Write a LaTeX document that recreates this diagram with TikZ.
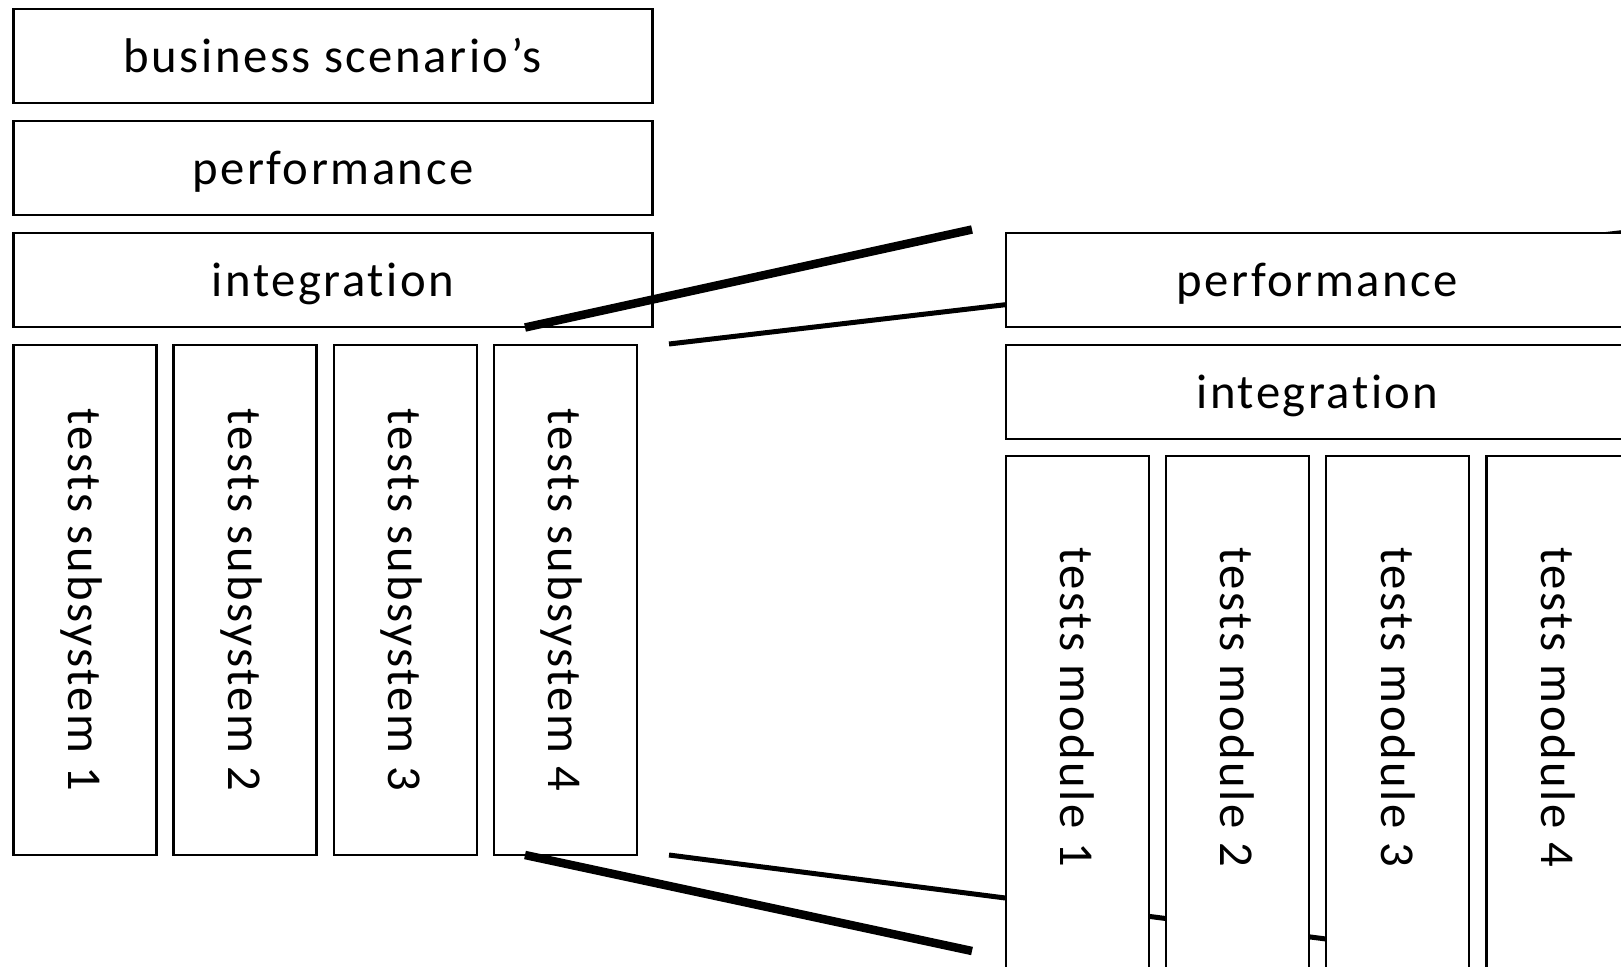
\documentclass[tikz,border=0pt]{standalone}
\usepackage{fontspec}
\newfontfamily\labelfont[LetterSpace=5.2,Ligatures={NoCommon}]{Carlito}
\begin{document}
\begin{tikzpicture}[x=1pt,y=-1pt,
  txt/.style={inner sep=0pt, text height=33pt, text depth=0pt,
    font=\labelfont\fontsize{48.7}{58}\selectfont},
  box/.style={txt, draw=black, line width=2.4pt, fill=white},
  hbox/.style={box, minimum width=639pt, minimum height=94pt},
  rbox/.style={box, minimum width=623pt, minimum height=94pt},
  vbox/.style={box, rotate=-90, minimum width=510pt, minimum height=143pt},
  mbox/.style={box, rotate=-90, minimum width=520pt, minimum height=143pt},
  vlabel/.style={txt, rotate=-90},
  thinlink/.style={draw=black, line width=5pt},
  thicklink/.style={draw=black, line width=8.5pt}]
\useasboundingbox (0,0) rectangle (1621,966);
\clip (0,0) rectangle (1621,966);

% left stack: system level
\node[hbox] (bus)  at (332.8,55.8)  {business scenario’s};
\node[hbox] (perf) at (332.8,168)   {performance};
\node[hbox] (int)  at (332.8,279.7) {integration};
\node[vbox] (s1) at (84.8,600)  {tests subsystem 1};
\node[vbox] (s2) at (245.0,600) {tests subsystem 2};
\node[vbox] (s3) at (405.2,600) {tests subsystem 3};
\node[vbox] (s4) at (565.4,600) {tests subsystem 4};

% zoom funnel from subsystem 4 to its detail view
\coordinate (tu1) at (525,327.5);
\coordinate (tu2) at (972,229.5);
\coordinate (tl1) at (525,855);
\coordinate (tl2) at (972,951);
\coordinate (nu1) at (669,344);
\coordinate (nu2) at (1630,231.7);
\coordinate (nl1) at (669,855);
\coordinate (nl2) at (1420,951);
\draw[thicklink] (tu1) -- (tu2);
\draw[thicklink] (tl1) -- (tl2);
\draw[thinlink] (nu1) -- (nu2);
\draw[thinlink] (nl1) -- (nl2);

% right stack: subsystem 4 in detail
\node[rbox] (rperf) at (1317.5,279.7) {performance};
\node[rbox] (rint)  at (1317.5,392)   {integration};
\node[mbox] (m1) at (1077.2,716) {};
\node[mbox] (m2) at (1237.4,716) {};
\node[mbox] (m3) at (1397.6,716) {};
\node[mbox] (m4) at (1557.8,716) {};
\node[vlabel] (m1t) at (1077.2,707) {tests module 1};
\node[vlabel] (m2t) at (1237.4,707) {tests module 2};
\node[vlabel] (m3t) at (1397.6,707) {tests module 3};
\node[vlabel] (m4t) at (1557.8,707) {tests module 4};
\end{tikzpicture}
\end{document}
